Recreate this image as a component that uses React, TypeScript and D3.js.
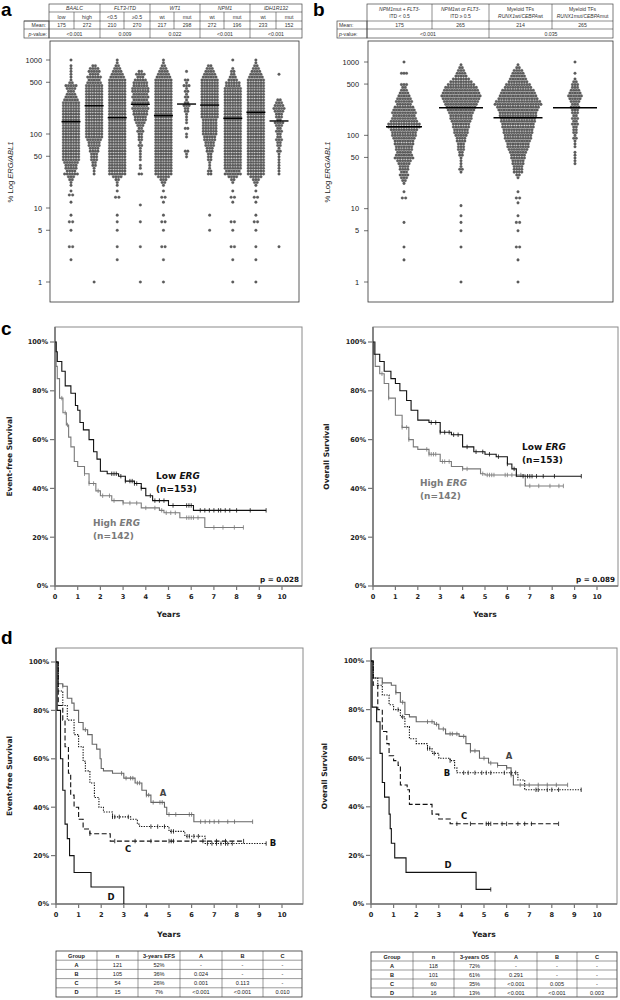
import React from 'react';
import * as d3 from 'd3';

const W = 620, H = 1000;

// ---------------- Panel a data ----------------
const aGroups = ['BAALC', 'FLT3-ITD', 'WT1', 'NPM1', 'IDH1R132'];
const aSub = ['low', 'high', '<0.5', '≥0.5', 'wt', 'mut', 'wt', 'mut', 'wt', 'mut'];
const aMeans = ['175', '272', '210', '270', '217', '298', '272', '196', '233', '152'];
const aPvals = ['<0.001', '0.009', '0.022', '<0.001', '<0.001'];
const aMedians = [147, 241, 166, 252, 177, 254, 246, 163, 196, 150];
const logTicks = [1, 5, 10, 50, 100, 500, 1000];

// dot counts per row (row 0 = 1000, going down the log axis)
const aRows: number[][] = [
  [1,0,1,1,1,1,1,1,2,5,4,3,4,5,6,7,7,7,7,7,7,7,7,7,7,7,7,7,7,7,7,7,7,7,7,7,6,5,5,4,6,3,2,1,1],
  [0,0,2,4,5,4,6,5,6,7,7,7,7,7,7,7,7,7,7,7,7,7,7,7,7,7,7,7,6,5,5,4,4,3,3,3,2,2,1,1,1],
  [1,1,2,3,4,5,6,7,7,7,7,7,7,7,7,7,7,7,7,7,7,7,7,7,7,7,7,7,7,7,7,7,7,7,7,7,7,7,7,7,7,4,2,1,1],
  [0,0,0,0,2,4,3,5,6,6,7,7,6,7,6,7,6,7,6,6,5,5,4,3,2,3,2,2,2,1,2,1,1,1,1,1,0,1,1,0,2],
  [1,1,2,3,4,5,6,7,7,7,7,7,7,7,7,7,7,7,7,7,7,7,7,7,7,7,7,7,7,7,7,7,7,7,7,7,7,7,7,7,7,5,3,2,1],
  [0,0,0,0,1,0,0,2,1,3,1,2,1,2,1,2,3,2,2,1,1,1,1,0,2,0,1,1,0,0,0,0,2,1,1],
  [0,0,2,3,4,5,6,7,7,7,7,7,7,7,7,7,7,7,7,7,7,6,6,6,6,6,6,5,5,4,4,3,3,2,2,2,1,1,1,2,2],
  [1,0,0,1,2,2,3,4,6,6,7,7,7,7,7,7,7,7,7,7,7,7,7,7,7,7,7,7,7,7,7,7,7,7,7,7,7,7,7,6,7,4,2,1],
  [1,1,2,3,4,5,6,7,7,7,7,7,7,7,7,7,7,7,7,7,7,7,7,7,7,7,7,7,7,7,7,7,7,7,7,7,7,7,7,7,7,5,3,2,1],
  [0,0,0,0,0,1,0,0,0,0,0,0,0,0,2,3,4,5,4,3,3,2,4,3,2,3,2,2,3,2,2,1,2,1,1,1,1,1,1,1,1],
];
const aLow: [number, number][][] = [
  [[17,1],[15,2],[12,1],[8,1],[6.5,2],[5,1],[3,2],[2,1]],
  [[1,1]],
  [[17,1],[14,2],[8,1],[6.5,1],[5,1],[3,1],[2,1]],
  [[11,1],[6.5,1],[3,1],[1,1]],
  [[17,1],[14,2],[12,1],[8,1],[6.5,2],[5,1],[3,2],[2,1],[1,1]],
  [],
  [[8,1],[5,1]],
  [[17,1],[14,2],[12,1],[6.5,2],[5,1],[3,2],[2,1],[1,1]],
  [[17,1],[14,2],[12,1],[8,1],[6.5,2],[5,1],[3,1],[2,1],[1,1]],
  [[3,1]],
];

// ---------------- Panel b data ----------------
const bMeans = ['175', '265', '214', '265'];
const bPvals = ['<0.001', '0.035'];
const bMedians = [131, 238, 174, 238];
const bRows: number[][] = [
  [1,0,0,0,3,0,0,0,3,2,3,4,5,6,7,6,8,9,10,9,10,11,13,13,11,10,10,9,8,8,7,7,6,7,8,6,5,4,4,3,4,3,2,1],
  [0,1,2,3,4,5,7,9,11,13,14,15,16,15,14,13,12,11,10,9,9,8,7,7,6,6,5,4,4,3,3,3,2,2,1,1,1,1,2,1],
  [0,1,2,4,5,6,7,8,10,11,13,14,15,16,18,19,17,16,15,15,14,14,13,13,12,12,11,11,10,9,9,8,7,6,6,5,5,4,4,4,2,1],
  [1,0,0,0,1,0,1,2,3,3,4,5,6,5,4,3,4,3,3,2,3,2,3,2,2,2,1,2,1,1,1,0,1,1,1,1,1],
];
const bLow: [number, number][][] = [
  [[17,1],[14,2],[6.5,1],[3,1],[2,1]],
  [[11,1],[8,1],[6.5,1],[5,1],[3,1],[1,1]],
  [[17,1],[14,2],[12,1],[8,1],[6.5,2],[5,1],[3,2],[2,1],[1,1]],
  [],
];

// ---------------- Panel c data (KM) ----------------
const cEfsLow: [number, number][] = [[0,100],[0.05,96],[0.1,92],[0.3,88],[0.45,82],[0.7,79],[0.9,74],[1.0,72],[1.1,67],[1.25,64],[1.5,60],[1.7,55],[1.85,52],[2.0,47],[2.3,46],[2.8,45],[3.1,43],[3.5,42],[3.8,40],[4.0,37],[4.3,35],[5.0,33],[6.1,31],[9.3,31]];
const cEfsHigh: [number, number][] = [[0,100],[0.05,90],[0.1,85],[0.2,77],[0.35,71],[0.5,66],[0.6,61],[0.7,57],[0.85,51],[1.0,49],[1.3,46],[1.5,42],[1.8,39],[2.0,37],[2.5,35],[3.0,34],[3.8,32],[4.6,31],[4.8,30],[5.5,28],[6.6,24],[8.3,24]];
const cEfsLowCens = [2.5,2.6,2.7,2.9,3.1,3.3,3.4,3.5,3.6,3.8,4.2,4.4,4.6,4.8,5.2,5.8,5.9,6.0,6.4,6.6,6.8,7.0,7.2,7.3,7.5,7.7,8.0,8.6,9.3];
const cEfsHighCens = [0.3,0.45,0.55,1.3,1.5,1.7,1.9,2.1,2.4,2.6,3.0,3.3,3.6,4.0,4.4,4.7,4.9,5.1,5.3,5.8,5.9,6.0,6.1,6.3,7.0,7.4,7.9,8.3];

const cOsLow: [number, number][] = [[0,100],[0.05,95],[0.3,92],[0.5,88],[0.8,85],[1.0,83],[1.2,80],[1.5,76],[1.7,72],[2.0,68],[2.5,67],[3.0,63],[3.5,62],[4.0,57],[4.5,55],[5.0,54],[5.5,53],[6.0,50],[6.2,48],[6.4,45],[9.3,45]];
const cOsHigh: [number, number][] = [[0,100],[0.1,90],[0.3,87],[0.5,83],[0.7,77],[1.0,70],[1.3,65],[1.6,60],[1.8,57],[2.0,56],[2.5,54],[3.0,51],[3.5,49],[4.0,48],[4.8,46],[5.0,45.5],[6.8,41],[8.5,41]];
const cOsLowCens = [2.6,2.8,3.0,3.2,3.4,3.6,3.8,4.2,4.6,4.9,5.2,5.6,6.0,6.3,6.7,6.9,7.0,7.1,7.3,7.6,8.1,9.3];
const cOsHighCens = [0.4,0.7,1.3,1.5,1.6,2.4,2.5,2.6,2.7,2.8,3.1,3.2,3.4,4.0,4.2,4.9,5.1,5.2,5.3,5.4,5.9,6.0,6.2,6.4,6.6,7.0,7.4,7.9,8.3,8.5];

// ---------------- Panel d data (KM) ----------------
const dEfsA: [number, number][] = [[0,100],[0.1,91],[0.3,90],[0.5,85],[0.7,83],[0.8,80],[1.0,75],[1.2,72],[1.4,70],[1.6,66],[1.8,64],[1.95,60],[2.0,56],[2.1,55],[2.5,54],[3.0,52],[3.5,50],[3.8,47],[4.0,45],[4.2,42],[4.8,40],[4.9,37],[6.1,34],[8.7,34]];
const dEfsB: [number, number][] = [[0,100],[0.1,88],[0.3,82],[0.5,76],[0.8,70],[1.0,65],[1.2,59],[1.3,55],[1.5,50],[1.7,44],[1.9,40],[2.1,38],[2.5,36],[3.3,35],[3.6,33],[3.7,32],[5.0,30],[5.7,28],[6.6,25],[9.3,25]];
const dEfsC: [number, number][] = [[0,100],[0.1,82],[0.3,76],[0.4,65],[0.55,54],[0.65,45],[0.8,40],[1.0,35],[1.2,31],[1.5,29],[2.4,26],[8.3,26]];
const dEfsD: [number, number][] = [[0,100],[0.05,80],[0.2,60],[0.3,47],[0.4,33],[0.5,27],[0.6,20],[0.8,13],[1.55,7],[3.0,0],[3.0,0]];
const dEfsACens = [0.3,1.3,2.9,3.1,3.3,3.4,3.6,3.7,4.0,4.1,4.3,4.6,4.7,5.0,5.3,5.9,6.0,6.4,6.6,6.8,7.0,7.2,7.6,7.9,8.7];
const dEfsBCens = [2.5,2.6,2.8,3.2,4.2,4.5,4.8,5.1,5.2,5.8,5.9,6.1,6.3,6.7,6.9,7.1,7.3,7.5,7.6,7.8,9.3];
const dEfsCCens = [1.5,2.6,3.5,4.2,5.0,5.1,5.2,6.0,6.5,7.1,7.5,8.3];

const dOsA: [number, number][] = [[0,100],[0.1,93],[0.5,91],[0.9,90],[1.1,87],[1.3,83],[1.5,78],[1.7,77],[2.0,75],[2.8,74],[3.0,72],[3.3,70],[3.9,69],[4.2,66],[4.4,63],[4.8,60],[5.2,58],[5.6,57],[6.0,56],[6.2,53],[6.3,49],[8.7,49]];
const dOsB: [number, number][] = [[0,100],[0.1,93],[0.3,90],[0.5,86],[0.8,82],[1.0,80],[1.3,77],[1.5,73],[1.7,68],[2.0,66],[2.5,64],[2.7,62],[3.0,60],[3.5,59],[3.7,56],[3.8,54],[6.5,51],[6.8,47],[9.3,47]];
const dOsC: [number, number][] = [[0,100],[0.1,90],[0.3,80],[0.5,71],[0.7,66],[0.8,61],[1.0,59],[1.2,57],[1.3,49],[1.6,47],[1.7,41],[2.3,41],[2.7,37],[3.0,35],[3.5,33],[8.3,33]];
const dOsD: [number, number][] = [[0,100],[0.05,81],[0.25,75],[0.4,62],[0.5,50],[0.6,44],[0.8,37],[0.85,31],[0.9,25],[1.05,19],[1.55,13],[4.65,6],[5.3,6]];
const dOsACens = [0.5,1.1,1.4,2.5,2.7,2.9,3.2,3.5,3.6,3.8,4.1,4.4,4.6,5.0,5.3,5.6,6.0,6.2,6.6,7.0,7.4,7.8,8.2,8.7];
const dOsBCens = [1.2,1.4,2.5,2.6,2.8,3.5,4.1,4.3,4.6,4.9,5.1,5.3,5.9,6.2,6.4,7.3,7.4,7.8,8.0,8.3,9.3];
const dOsCCens = [3.8,4.4,5.1,5.2,5.3,5.8,6.0,6.5,6.8,7.1,8.3];
const dOsDCens = [5.3];

const kmYTicks = [0, 20, 40, 60, 80, 100];
const kmXTicks = [0, 1, 2, 3, 4, 5, 6, 7, 8, 9, 10];

// ---------------- Tables ----------------
const efsHeader = ['Group', 'n', '3-years EFS', 'A', 'B', 'C'];
const efsRows = [
  ['A', '121', '52%', '-', '-', '-'],
  ['B', '105', '36%', '0.024', '-', '-'],
  ['C', '54', '26%', '0.001', '0.113', '-'],
  ['D', '15', '7%', '<0.001', '<0.001', '0.010'],
];
const osHeader = ['Group', 'n', '3-years OS', 'A', 'B', 'C'];
const osRows = [
  ['A', '118', '72%', '-', '-', '-'],
  ['B', '101', '61%', '0.291', '-', '-'],
  ['C', '60', '35%', '<0.001', '0.005', '-'],
  ['D', '16', '13%', '<0.001', '<0.001', '0.003'],
];

// ---------------- helpers ----------------
const SANS = 'Liberation Sans, Arial, sans-serif';
const VERD = 'DejaVu Sans, Verdana, sans-serif';
const ROW_LOG_STEP = 0.0385;
const DOT_DX = 2.55;
const DOT_R = 1.3;

function swarmDots(rows: number[], low: [number, number][], cx: number, y: d3.ScaleLogarithmic<number, number>) {
  const pts: [number, number][] = [];
  rows.forEach((n, i) => {
    const v = 1000 * Math.pow(10, -ROW_LOG_STEP * i);
    for (let k = 0; k < n; k++) pts.push([cx + (k - (n - 1) / 2) * DOT_DX, y(v)]);
  });
  low.forEach(([v, n]) => {
    for (let k = 0; k < n; k++) pts.push([cx + (k - (n - 1) / 2) * (DOT_DX + 0.8), y(v)]);
  });
  return pts;
}

function survAt(curve: [number, number][], t: number) {
  let s = curve[0][1];
  for (const [tt, ss] of curve) { if (tt <= t + 1e-9) s = ss; }
  return s;
}

type Curve = { data: [number, number][]; cens: number[]; color: string; dash?: string; width?: number };

function KMPlot(props: {
  axX: number; x10: number; y0: number; y100: number; top: number; right: number;
  curves: Curve[]; ylabel: string; ylabelX: number; yearsY: number;
}) {
  const { axX, x10, y0, y100, top, right, curves, ylabel, ylabelX, yearsY } = props;
  const x = d3.scaleLinear().domain([0, 10]).range([axX, x10]);
  const y = d3.scaleLinear().domain([0, 100]).range([y0, y100]);
  const line = d3.line<[number, number]>().x(d => x(d[0])).y(d => y(d[1])).curve(d3.curveStepAfter);
  const yMid = (top + y0) / 2;
  return (
    <g>
      <rect x={axX} y={top} width={right - axX} height={y0 - top} fill="none" stroke="#8a8a8a" strokeWidth={1} />
      <line x1={axX} x2={axX} y1={top} y2={y0 + 0.5} stroke="#777" strokeWidth={1.6} />
      <line x1={axX} x2={right} y1={y0} y2={y0} stroke="#777" strokeWidth={1.6} />
      {kmYTicks.map(t => (
        <g key={'y' + t}>
          <line x1={axX - 5} x2={axX} y1={y(t)} y2={y(t)} stroke="#777" strokeWidth={1.2} />
          <text x={axX - 7} y={y(t) + 2.4} fontSize={6.6} fontWeight="bold" textAnchor="end" fontFamily={VERD} fill="#222">{t}%</text>
        </g>
      ))}
      {kmXTicks.map(t => (
        <g key={'x' + t}>
          <line x1={x(t)} x2={x(t)} y1={y0} y2={y0 + 4} stroke="#777" strokeWidth={1.2} />
          <text x={x(t)} y={y0 + 13} fontSize={6.6} fontWeight="bold" textAnchor="middle" fontFamily={VERD} fill="#222">{t}</text>
        </g>
      ))}
      <text transform={`translate(${ylabelX},${yMid}) rotate(-90)`} fontSize={7.4} fontWeight="bold" textAnchor="middle" fontFamily={VERD} fill="#222">{ylabel}</text>
      <text x={(axX + x10) / 2} y={yearsY} fontSize={7.6} fontWeight="bold" textAnchor="middle" fontFamily={VERD} fill="#222">Years</text>
      {curves.map((c, i) => (
        <g key={'c' + i}>
          <path d={line(c.data) || ''} fill="none" stroke={c.color} strokeWidth={c.width ?? 1.1} strokeDasharray={c.dash} />
          {c.cens.map((t, j) => (
            <line key={j} x1={x(t)} x2={x(t)} y1={y(survAt(c.data, t)) - 2.2} y2={y(survAt(c.data, t)) + 2.2} stroke={c.color} strokeWidth={0.8} />
          ))}
        </g>
      ))}
    </g>
  );
}

function Table(props: { x: number[]; top: number; rowH: number; header: string[]; rows: string[][] }) {
  const { x, top, rowH, header, rows } = props;
  const all = [header, ...rows];
  const bottom = top + rowH * all.length;
  return (
    <g>
      <rect x={x[0]} y={top} width={x[x.length - 1] - x[0]} height={bottom - top} fill="none" stroke="#333" strokeWidth={0.8} />
      {all.map((r, i) => i > 0 && <line key={'h' + i} x1={x[0]} x2={x[x.length - 1]} y1={top + i * rowH} y2={top + i * rowH} stroke="#555" strokeWidth={0.6} />)}
      {x.slice(1, -1).map((xx, i) => <line key={'v' + i} x1={xx} x2={xx} y1={top} y2={bottom} stroke="#555" strokeWidth={0.6} />)}
      {all.map((r, i) => r.map((c, j) => (
        <text key={i + '-' + j} x={(x[j] + x[j + 1]) / 2} y={top + i * rowH + rowH / 2 + 2} fontSize={5.6} textAnchor="middle"
          fontFamily={SANS} fontWeight={i === 0 || j === 0 ? 'bold' : 'normal'} fill="#222">{c}</text>
      )))}
    </g>
  );
}

export default function App() {
  // ---------- panel a ----------
  const aBox = { l: 50, r: 299, t: 41, b: 302 };
  const ay = d3.scaleLog().domain([1, 1000]).range([282, 60]);
  const ax = d3.scalePoint<number>().domain(d3.range(10)).range([71, 279]);
  // ---------- panel b ----------
  const bBox = { l: 368, r: 613, t: 41, b: 302 };
  const by = d3.scaleLog().domain([1, 1000]).range([282, 62]);
  const bx = d3.scalePoint<number>().domain(d3.range(4)).range([404, 575]);
  const bHalf = [18, 22, 24.5, 22];

  const aCols = [49, 74, 100, 124, 150, 174, 200, 224, 250, 276, 302];
  const aRowY = [4, 12, 21, 29, 38];
  const bCols = [367, 432, 489, 552, 613];
  const bRowY = [4, 21, 29, 38];

  const tcell = (x: number, y: number, s: React.ReactNode, key: string, italic = false) => (
    <text key={key} x={x} y={y} fontSize={5.2} textAnchor="middle" fontFamily={SANS} fill="#333" fontStyle={italic ? 'italic' : 'normal'}>{s}</text>
  );

  return (
    <svg width={W} height={H} style={{ position: 'absolute', left: 0, top: 0, background: '#fff' }} xmlns="http://www.w3.org/2000/svg">
      <rect width={W} height={H} fill="#fff" />
      {/* panel letters */}
      <text x={1} y={16} fontSize={19} fontWeight="bold" fontFamily={SANS}>a</text>
      <text x={313} y={16} fontSize={19} fontWeight="bold" fontFamily={SANS}>b</text>
      <text x={1} y={335} fontSize={19} fontWeight="bold" fontFamily={SANS}>c</text>
      <text x={1} y={644} fontSize={19} fontWeight="bold" fontFamily={SANS}>d</text>

      {/* ---------- table a ---------- */}
      <g>
        <rect x={aCols[0]} y={aRowY[0]} width={aCols[10] - aCols[0]} height={aRowY[4] - aRowY[0]} fill="none" stroke="#444" strokeWidth={0.7} />
        <rect x={24} y={aRowY[2]} width={aCols[0] - 24} height={aRowY[4] - aRowY[2]} fill="none" stroke="#444" strokeWidth={0.7} />
        {aRowY.slice(1, 4).map((yy, i) => <line key={'ar' + i} x1={i === 0 ? aCols[0] : 24} x2={aCols[10]} y1={yy} y2={yy} stroke="#444" strokeWidth={0.6} />)}
        {aCols.slice(1, 10).map((xx, i) => {
          const major = i % 2 === 1;
          return <line key={'ac' + i} x1={xx} x2={xx} y1={major ? aRowY[0] : aRowY[1]} y2={major ? aRowY[4] : aRowY[3]} stroke="#444" strokeWidth={0.6} />;
        })}
        {aGroups.map((g, i) => tcell((aCols[2 * i] + aCols[2 * i + 2]) / 2, 10, g, 'ag' + i, true))}
        {aSub.map((s, i) => tcell((aCols[i] + aCols[i + 1]) / 2, 18.5, s, 'as' + i))}
        {aMeans.map((s, i) => tcell((aCols[i] + aCols[i + 1]) / 2, 27, s, 'am' + i))}
        {aPvals.map((s, i) => tcell((aCols[2 * i] + aCols[2 * i + 2]) / 2, 35.5, s, 'ap' + i))}
        <text x={46} y={27} fontSize={5.2} textAnchor="end" fontFamily={SANS} fill="#333">Mean:</text>
        <text x={47} y={35.5} fontSize={5.2} textAnchor="end" fontFamily={SANS} fill="#333"><tspan fontStyle="italic">p</tspan>-value:</text>
      </g>

      {/* ---------- panel a plot ---------- */}
      <rect x={aBox.l} y={aBox.t} width={aBox.r - aBox.l} height={aBox.b - aBox.t} fill="none" stroke="#333" strokeWidth={0.8} />
      {logTicks.map(t => (
        <g key={'at' + t}>
          <line x1={aBox.l - 4} x2={aBox.l} y1={ay(t)} y2={ay(t)} stroke="#333" strokeWidth={0.7} />
          <text x={aBox.l - 8} y={ay(t) + 2.6} fontSize={7.4} textAnchor="end" fontFamily={SANS} fill="#222">{t}</text>
        </g>
      ))}
      <text transform={`translate(13,172) rotate(-90)`} fontSize={7.6} textAnchor="middle" fontFamily={SANS} fill="#222">% Log <tspan fontStyle="italic">ERG/ABL1</tspan></text>
      {aRows.map((rows, ci) => (
        <g key={'asw' + ci}>
          {swarmDots(rows, aLow[ci], ax(ci)!, ay).map((p, k) => (
            <circle key={k} cx={p[0]} cy={p[1]} r={DOT_R} fill="#5e5e5e" stroke="#474747" strokeWidth={0.3} />
          ))}
          <line x1={ax(ci)! - 9.5} x2={ax(ci)! + 9.5} y1={ay(aMedians[ci])} y2={ay(aMedians[ci])} stroke="#000" strokeWidth={1.4} />
        </g>
      ))}

      {/* ---------- table b ---------- */}
      <g>
        <rect x={bCols[0]} y={bRowY[0]} width={bCols[4] - bCols[0]} height={bRowY[3] - bRowY[0]} fill="none" stroke="#444" strokeWidth={0.7} />
        <rect x={337} y={bRowY[1]} width={bCols[0] - 337} height={bRowY[3] - bRowY[1]} fill="none" stroke="#444" strokeWidth={0.7} />
        <line x1={bCols[0]} x2={bCols[4]} y1={bRowY[1]} y2={bRowY[1]} stroke="#444" strokeWidth={0.6} />
        <line x1={337} x2={bCols[4]} y1={bRowY[2]} y2={bRowY[2]} stroke="#444" strokeWidth={0.6} />
        {bCols.slice(1, 4).map((xx, i) => <line key={'bc' + i} x1={xx} x2={xx} y1={bRowY[0]} y2={i === 1 ? bRowY[3] : bRowY[2]} stroke="#444" strokeWidth={0.6} />)}
        <text x={(bCols[0] + bCols[1]) / 2} y={11} fontSize={5} textAnchor="middle" fontFamily={SANS} fill="#333"><tspan fontStyle="italic">NPM1</tspan>mut + <tspan fontStyle="italic">FLT3</tspan>-</text>
        <text x={(bCols[0] + bCols[1]) / 2} y={18} fontSize={5} textAnchor="middle" fontFamily={SANS} fill="#333">ITD &lt; 0.5</text>
        <text x={(bCols[1] + bCols[2]) / 2} y={11} fontSize={5} textAnchor="middle" fontFamily={SANS} fill="#333"><tspan fontStyle="italic">NPM1</tspan>wt or <tspan fontStyle="italic">FLT3</tspan>-</text>
        <text x={(bCols[1] + bCols[2]) / 2} y={18} fontSize={5} textAnchor="middle" fontFamily={SANS} fill="#333">ITD ≥ 0.5</text>
        <text x={(bCols[2] + bCols[3]) / 2} y={11} fontSize={5} textAnchor="middle" fontFamily={SANS} fill="#333">Myeloid TFs</text>
        <text x={(bCols[2] + bCols[3]) / 2} y={18} fontSize={5} textAnchor="middle" fontFamily={SANS} fill="#333"><tspan fontStyle="italic">RUNX1</tspan>wt/<tspan fontStyle="italic">CEBPA</tspan>wt</text>
        <text x={(bCols[3] + bCols[4]) / 2} y={11} fontSize={5} textAnchor="middle" fontFamily={SANS} fill="#333">Myeloid TFs</text>
        <text x={(bCols[3] + bCols[4]) / 2} y={18} fontSize={5} textAnchor="middle" fontFamily={SANS} fill="#333"><tspan fontStyle="italic">RUNX1</tspan>mut/<tspan fontStyle="italic">CEBPA</tspan>mut</text>
        {bMeans.map((s, i) => tcell((bCols[i] + bCols[i + 1]) / 2, 27, s, 'bm' + i))}
        {bPvals.map((s, i) => tcell((bCols[2 * i] + bCols[2 * i + 2]) / 2, 35.5, s, 'bp' + i))}
        <text x={339} y={27} fontSize={5.2} fontFamily={SANS} fill="#333">Mean:</text>
        <text x={339} y={35.5} fontSize={5.2} fontFamily={SANS} fill="#333"><tspan fontStyle="italic">p</tspan>-value:</text>
      </g>

      {/* ---------- panel b plot ---------- */}
      <rect x={bBox.l} y={bBox.t} width={bBox.r - bBox.l} height={bBox.b - bBox.t} fill="none" stroke="#333" strokeWidth={0.8} />
      {logTicks.map(t => (
        <g key={'bt' + t}>
          <line x1={bBox.l - 4} x2={bBox.l} y1={by(t)} y2={by(t)} stroke="#333" strokeWidth={0.7} />
          <text x={bBox.l - 9} y={by(t) + 2.6} fontSize={7.4} textAnchor="end" fontFamily={SANS} fill="#222">{t}</text>
        </g>
      ))}
      <text transform={`translate(330,172) rotate(-90)`} fontSize={7.6} textAnchor="middle" fontFamily={SANS} fill="#222">% Log <tspan fontStyle="italic">ERG/ABL1</tspan></text>
      {bRows.map((rows, ci) => (
        <g key={'bsw' + ci}>
          {swarmDots(rows, bLow[ci], bx(ci)!, by).map((p, k) => (
            <circle key={k} cx={p[0]} cy={p[1]} r={DOT_R} fill="#5e5e5e" stroke="#474747" strokeWidth={0.3} />
          ))}
          <line x1={bx(ci)! - bHalf[ci]} x2={bx(ci)! + bHalf[ci]} y1={by(bMedians[ci])} y2={by(bMedians[ci])} stroke="#000" strokeWidth={1.4} />
        </g>
      ))}

      {/* ---------- panel c ---------- */}
      <KMPlot axX={55} x10={282} y0={586} y100={342} top={327} right={302}
        curves={[
          { data: cEfsHigh, cens: cEfsHighCens, color: '#7a7a7a' },
          { data: cEfsLow, cens: cEfsLowCens, color: '#111' },
        ]}
        ylabel="Event-free Survival" ylabelX={12} yearsY={617} />
      <text x={156} y={479} fontSize={9} fontWeight="bold" fontFamily={VERD} fill="#111">Low <tspan fontStyle="italic">ERG</tspan></text>
      <text x={156} y={492} fontSize={9} fontWeight="bold" fontFamily={VERD} fill="#111">(n=153)</text>
      <text x={93} y={526} fontSize={9} fontWeight="bold" fontFamily={VERD} fill="#7a7a7a">High <tspan fontStyle="italic">ERG</tspan></text>
      <text x={93} y={539} fontSize={9} fontWeight="bold" fontFamily={VERD} fill="#7a7a7a">(n=142)</text>
      <text x={299} y={582} fontSize={7.2} fontWeight="bold" textAnchor="end" fontFamily={VERD} fill="#111">p = 0.028</text>

      <KMPlot axX={373} x10={597} y0={586} y100={342} top={327} right={618}
        curves={[
          { data: cOsHigh, cens: cOsHighCens, color: '#7a7a7a' },
          { data: cOsLow, cens: cOsLowCens, color: '#111' },
        ]}
        ylabel="Overall Survival" ylabelX={329} yearsY={617} />
      <text x={522} y={450} fontSize={9} fontWeight="bold" fontFamily={VERD} fill="#111">Low <tspan fontStyle="italic">ERG</tspan></text>
      <text x={522} y={463} fontSize={9} fontWeight="bold" fontFamily={VERD} fill="#111">(n=153)</text>
      <text x={420} y={486} fontSize={9} fontWeight="bold" fontFamily={VERD} fill="#7a7a7a">High <tspan fontStyle="italic">ERG</tspan></text>
      <text x={420} y={499} fontSize={9} fontWeight="bold" fontFamily={VERD} fill="#7a7a7a">(n=142)</text>
      <text x={615} y={582} fontSize={7.2} fontWeight="bold" textAnchor="end" fontFamily={VERD} fill="#111">p = 0.089</text>

      {/* ---------- panel d ---------- */}
      <KMPlot axX={56} x10={282} y0={904} y100={662} top={648} right={303}
        curves={[
          { data: dEfsA, cens: dEfsACens, color: '#666' },
          { data: dEfsB, cens: dEfsBCens, color: '#111', dash: '1.3,1.3' },
          { data: dEfsC, cens: dEfsCCens, color: '#111', dash: '5,2.5' },
          { data: dEfsD, cens: [], color: '#111' },
        ]}
        ylabel="Event-free Survival" ylabelX={12} yearsY={937} />
      <text x={163} y={796} fontSize={8.5} fontWeight="bold" textAnchor="middle" fontFamily={VERD} fill="#444">A</text>
      <text x={273} y={846} fontSize={8.5} fontWeight="bold" textAnchor="middle" fontFamily={VERD} fill="#111">B</text>
      <text x={128} y={852} fontSize={8.5} fontWeight="bold" textAnchor="middle" fontFamily={VERD} fill="#111">C</text>
      <text x={111} y={900} fontSize={8.5} fontWeight="bold" textAnchor="middle" fontFamily={VERD} fill="#111">D</text>

      <KMPlot axX={371} x10={597} y0={904} y100={661} top={648} right={617}
        curves={[
          { data: dOsA, cens: dOsACens, color: '#666' },
          { data: dOsB, cens: dOsBCens, color: '#111', dash: '1.3,1.3' },
          { data: dOsC, cens: dOsCCens, color: '#111', dash: '5,2.5' },
          { data: dOsD, cens: dOsDCens, color: '#111' },
        ]}
        ylabel="Overall Survival" ylabelX={327} yearsY={937} />
      <text x={509} y={759} fontSize={8.5} fontWeight="bold" textAnchor="middle" fontFamily={VERD} fill="#444">A</text>
      <text x={447} y={776} fontSize={8.5} fontWeight="bold" textAnchor="middle" fontFamily={VERD} fill="#111">B</text>
      <text x={464} y={819} fontSize={8.5} fontWeight="bold" textAnchor="middle" fontFamily={VERD} fill="#111">C</text>
      <text x={448} y={868} fontSize={8.5} fontWeight="bold" textAnchor="middle" fontFamily={VERD} fill="#111">D</text>

      {/* ---------- tables ---------- */}
      <Table x={[56, 97, 138, 180, 222, 263, 302]} top={951} rowH={9.2} header={efsHeader} rows={efsRows} />
      <Table x={[371, 413, 454, 495, 537, 577, 617]} top={952} rowH={9} header={osHeader} rows={osRows} />
    </svg>
  );
}
